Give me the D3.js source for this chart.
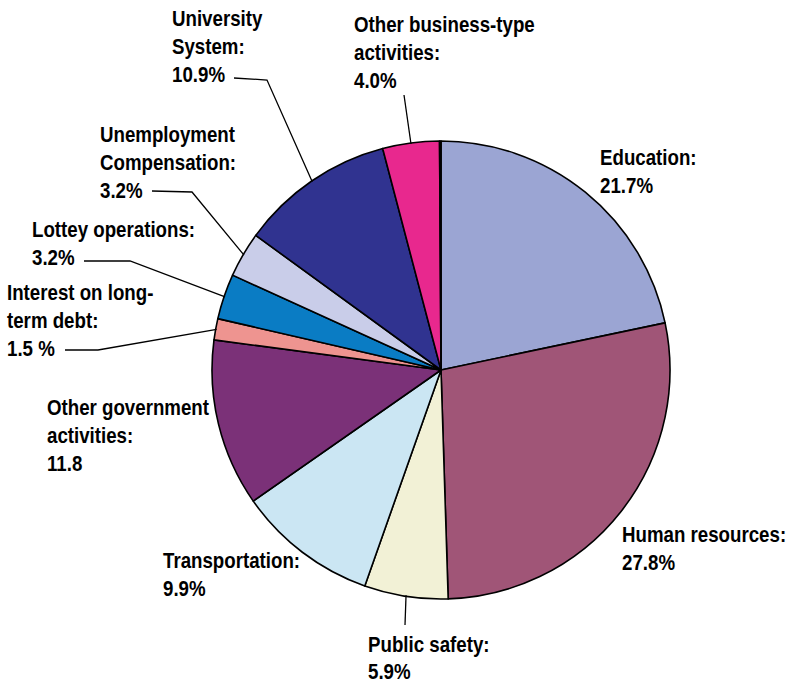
<!DOCTYPE html>
<html><head><meta charset="utf-8">
<script src="https://cdn.jsdelivr.net/npm/d3@7/dist/d3.min.js"></script>
<style>body{margin:0;background:#fff}</style>
</head><body>
<svg id="chart" width="788" height="683"></svg>
<script>
const categories = ["Education","Human resources","Public safety","Transportation","Other government activities","Interest on long-term debt","Lottey operations","Unemployment Compensation","University System","Other business-type activities","Remainder"];
const values = [21.7,27.8,5.9,9.9,11.8,1.5,3.2,3.2,10.9,4.0,0.1];
const colors = ["#9BA5D3","#A05577","#F2F1D6","#CBE6F3","#7B3178","#EE9490","#0A7CC4","#C9CDE9","#303390","#E8288E","#FFFFFF"];
const labelLines = [
  ["Education:","21.7%"],
  ["Human resources:","27.8%"],
  ["Public safety:","5.9%"],
  ["Transportation:","9.9%"],
  ["Other government","activities:","11.8"],
  ["Interest on long-","term debt:","1.5 %"],
  ["Lottey operations:","3.2%"],
  ["Unemployment","Compensation:","3.2%"],
  ["University","System:","10.9%"],
  ["Other business-type","activities:","4.0%"],
  []
];
// label layout: [x, firstBaseline, lineHeight]; leader: list of points from text side, ending at slice
const labelPos = [
  [600,165,28],[622,542,28],[368,652,27],[163,568,28],[47,415,28],
  [7,300,28],[32,237,28],[100,142,28],[172,26,28],[354,32,28],null
];
const leaders = [
  null,null,[[405,625]],null,null,
  [[65,350],[98,350]],[[84,261],[130,261]],[[152,191],[192,192]],[[234,78],[267,80]],[[404,95]],null
];

const svg = d3.select("#chart");
const cx = 441, cy = 370, R = 229;
const data = categories.map((c,i)=>({name:c,value:values[i],color:colors[i],i}));
const pie = d3.pie().value(d=>d.value).sort(null);
const arcs = pie(data);
const arc = d3.arc().innerRadius(0).outerRadius(R);
const g = svg.append("g").attr("transform",`translate(${cx},${cy})`);
g.selectAll("path").data(arcs).join("path")
  .attr("d",arc).attr("fill",d=>d.data.color)
  .attr("stroke","#000").attr("stroke-width",1.6).attr("stroke-linejoin","round");

// leader lines
arcs.forEach((a,i)=>{
  const L = leaders[i];
  if(!L) return;
  const m = (a.startAngle+a.endAngle)/2;
  const ex = cx + (R-1)*Math.sin(m), ey = cy - (R-1)*Math.cos(m);
  const pts = L.concat([[ex,ey]]);
  svg.append("path").attr("d",d3.line()(pts)).attr("fill","none")
    .attr("stroke","#000").attr("stroke-width",1.3);
});

// labels
labelLines.forEach((lines,i)=>{
  const p = labelPos[i];
  if(!p) return;
  const t = svg.append("g").attr("transform",`translate(${p[0]},${p[1]}) scale(0.85,1)`);
  lines.forEach((s,k)=>{
    t.append("text").attr("x",0).attr("y",k*p[2]).text(s)
      .attr("font-family","'Liberation Sans', Arial, sans-serif")
      .attr("font-weight","bold").attr("font-size","22px").attr("fill","#000");
  });
});
</script>
</body></html>
